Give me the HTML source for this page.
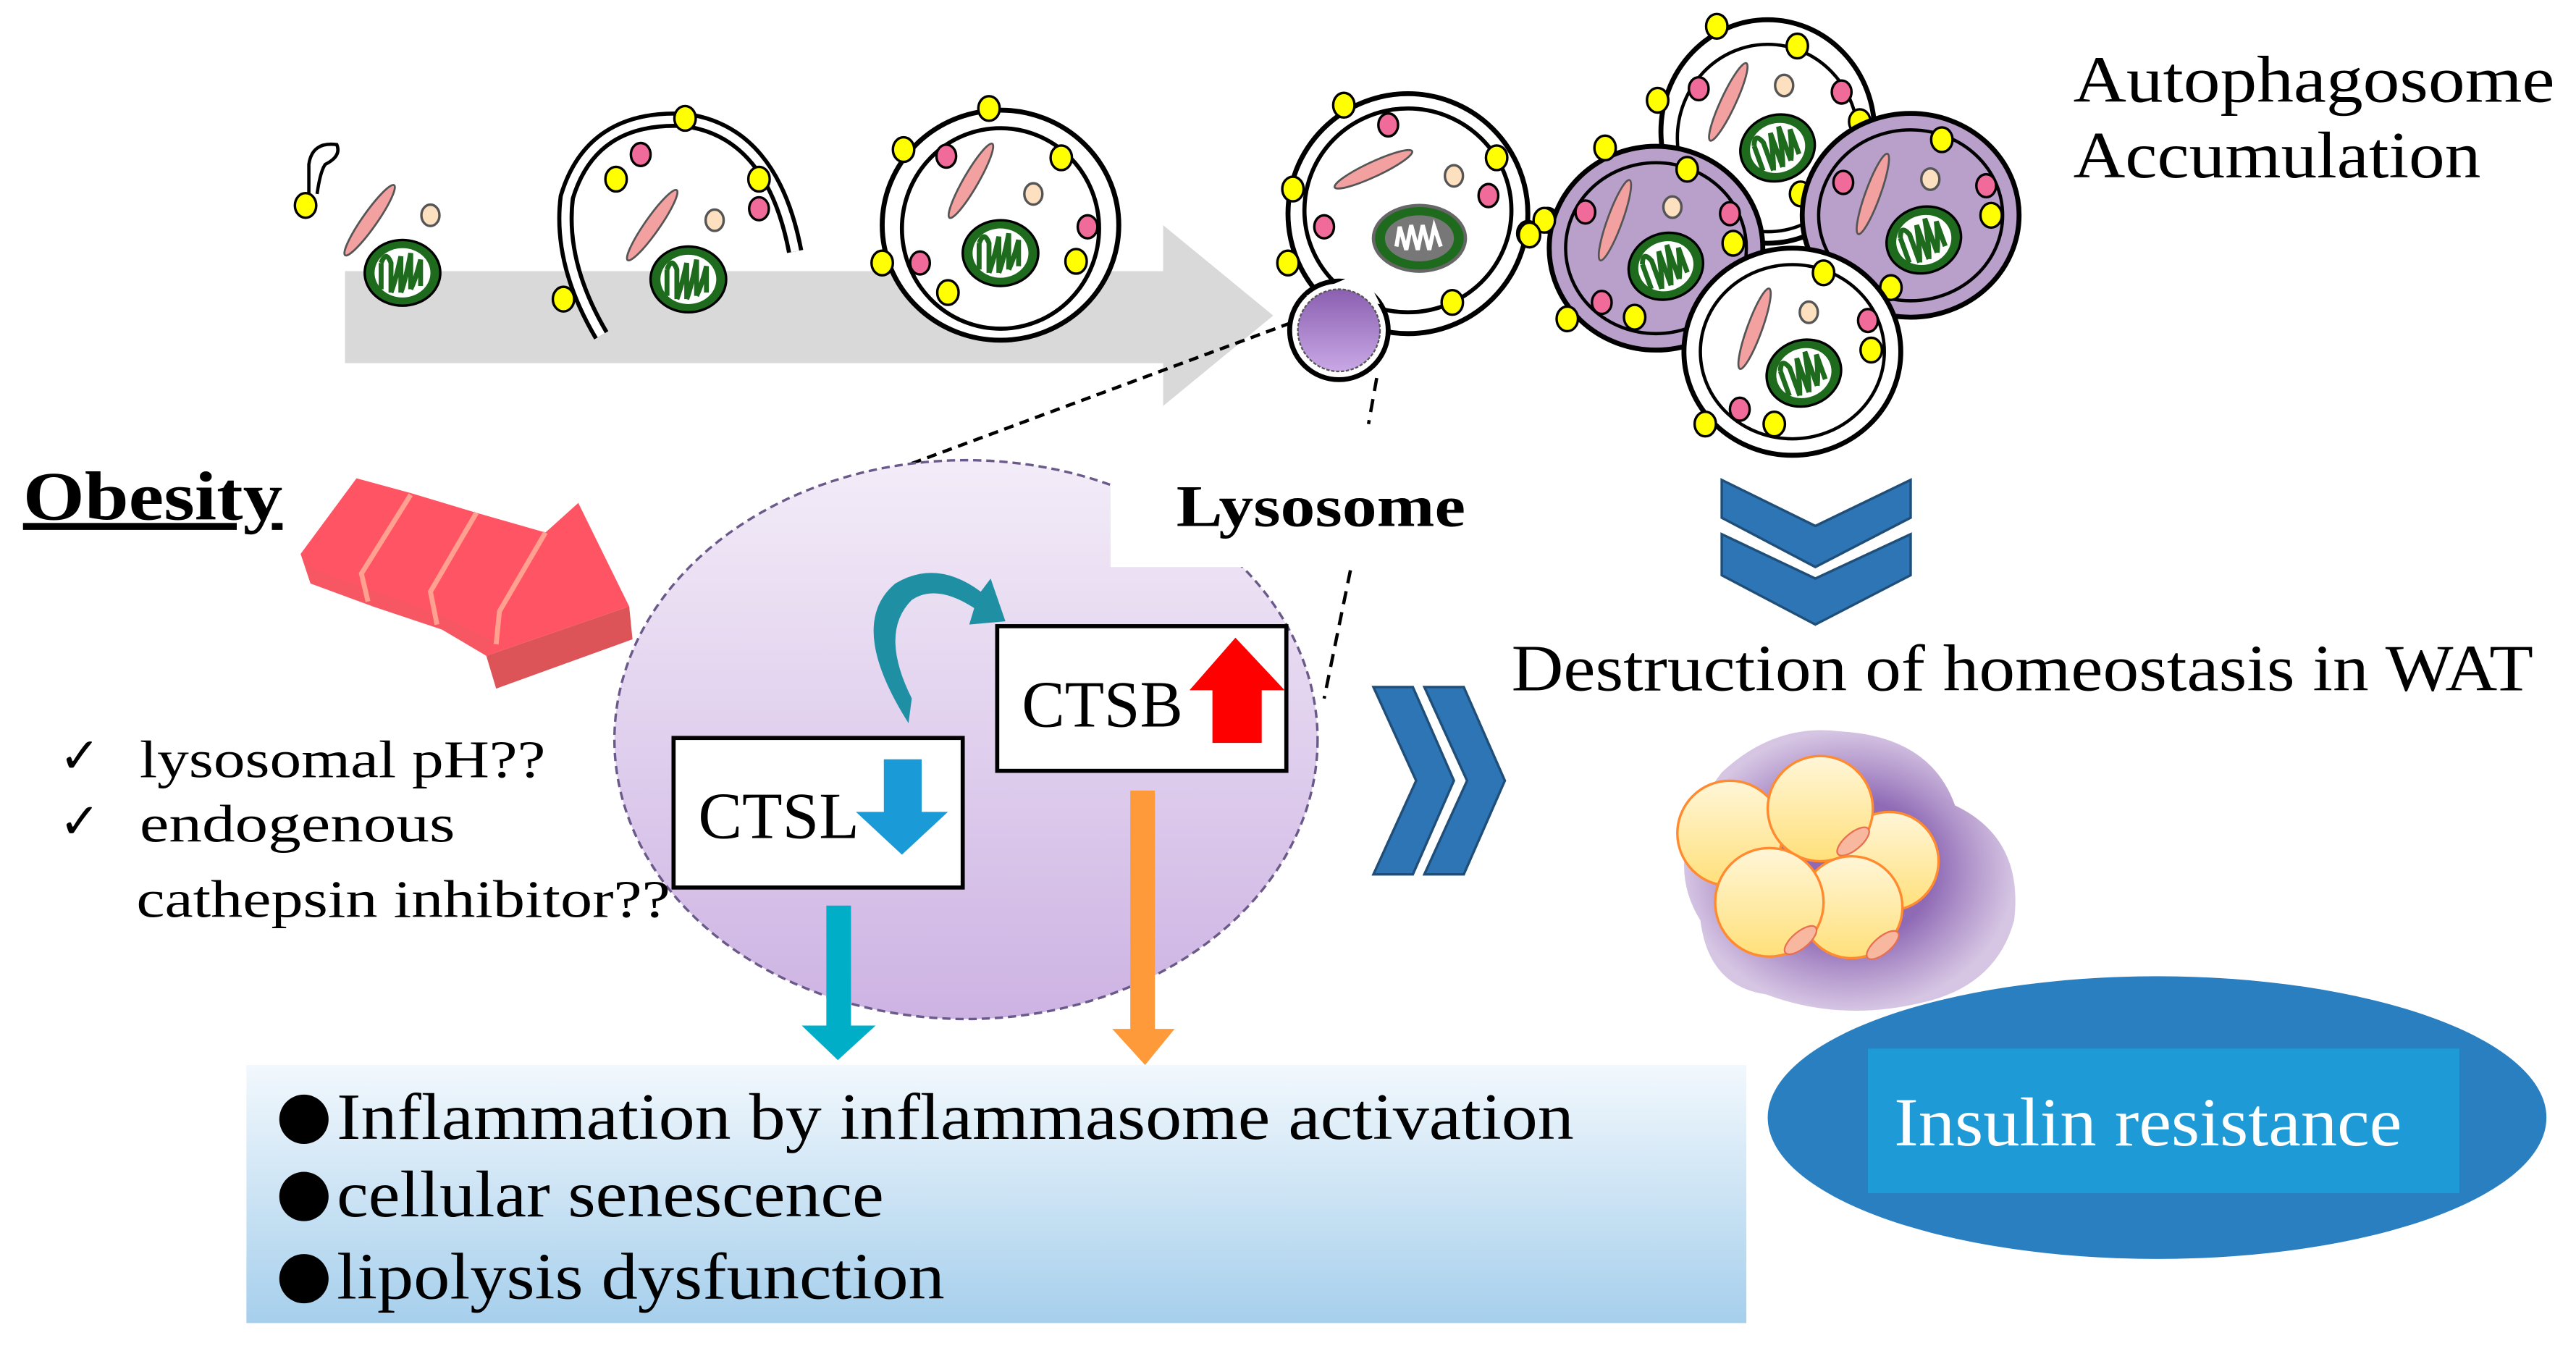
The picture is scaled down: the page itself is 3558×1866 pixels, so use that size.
<!DOCTYPE html>
<html><head><meta charset="utf-8"><style>
html,body{margin:0;padding:0;background:#fff;}
svg{display:block;}
text{font-family:"Liberation Serif",serif;}
</style></head><body>
<svg width="3558" height="1866" viewBox="0 0 1568 822" preserveAspectRatio="none" xmlns="http://www.w3.org/2000/svg">
<defs>
<linearGradient id="lys" x1="0" y1="0" x2="0" y2="1"><stop offset="0" stop-color="#f3ecf8"/><stop offset="1" stop-color="#cdb3e3"/></linearGradient>
<linearGradient id="box" x1="0" y1="0" x2="0" y2="1"><stop offset="0" stop-color="#f2f8fd"/><stop offset="1" stop-color="#a6cfec"/></linearGradient>
<linearGradient id="lyss" x1="0" y1="0" x2="0" y2="1"><stop offset="0" stop-color="#8a5fb0"/><stop offset="1" stop-color="#c9a8e6"/></linearGradient>
<linearGradient id="fat" x1="0" y1="0" x2="0" y2="1"><stop offset="0" stop-color="#fff6d8"/><stop offset="1" stop-color="#ffe07a"/></linearGradient>
<radialGradient id="glow"><stop offset="0.5" stop-color="#7b4fa8"/><stop offset="1" stop-color="#c9b3da" stop-opacity="0.9"/></radialGradient>
<g id="mito"><ellipse cx="0" cy="0" rx="23" ry="20" fill="#1e6b1e" stroke="#000" stroke-width="1.5"/><ellipse cx="0" cy="0" rx="17" ry="15" fill="#fff"/><path d="M-13 -6 L-13 10 M-13 -6 Q-10 -14 -7 -6 L-7 12 M-7 12 Q-4 4 -1 -10 L-1 12 M-1 12 Q2 4 5 -12 L5 10 M5 10 Q8 4 11 -8 L11 8" fill="none" stroke="#1e6b1e" stroke-width="3"/></g>
<g id="yd"><ellipse rx="6.5" ry="7.5" fill="#ffff00" stroke="#000" stroke-width="1.5"/></g>
<g id="pd"><ellipse rx="6" ry="7" fill="#f06a9a" stroke="#000" stroke-width="1.5"/></g>
<g id="cd"><ellipse rx="5.5" ry="6.5" fill="#fde0c0" stroke="#555" stroke-width="1.5"/></g>
<g id="rod"><ellipse rx="26" ry="4.5" fill="#f3a0a0" stroke="#555" stroke-width="1.2"/></g>
</defs>

<!-- grey arrow -->
<polygon points="210,165 708,165 708,137 775,192 708,247 708,221 210,221" fill="#d9d9d9"/>

<!-- stage 1 -->
<path d="M188 118 L188 100 Q190 86 205 88 Q208 95 198 100 Q195 104 193 118" fill="#fff" stroke="#000" stroke-width="2"/>
<use href="#yd" x="186" y="125"/>
<use href="#rod" transform="translate(225,134) rotate(-55)"/>
<use href="#cd" x="262" y="131"/>
<use href="#mito" x="245" y="166"/>

<!-- stage 2 -->
<path d="M366 204 Q340 160 345 120 Q360 70 417 73 Q470 80 484 153" fill="none" stroke="#000" stroke-width="10"/>
<path d="M366 204 Q340 160 345 120 Q360 70 417 73 Q470 80 484 153" fill="none" stroke="#fff" stroke-width="5"/>
<use href="#yd" x="417" y="72"/><use href="#yd" x="375" y="109"/><use href="#yd" x="462" y="109"/><use href="#yd" x="343" y="182"/>
<use href="#pd" x="390" y="94"/><use href="#pd" x="462" y="127"/>
<use href="#rod" transform="translate(397,137) rotate(-55)"/>
<use href="#cd" x="435" y="134"/>
<use href="#mito" x="419" y="170"/>

<!-- stage 3 -->
<ellipse cx="609" cy="137" rx="72" ry="70" fill="#fff" stroke="#000" stroke-width="3"/>
<ellipse cx="609" cy="139" rx="60" ry="61" fill="#fff" stroke="#000" stroke-width="2.5"/>
<use href="#yd" x="602" y="66"/><use href="#yd" x="550" y="91"/><use href="#yd" x="646" y="96"/><use href="#yd" x="537" y="160"/><use href="#yd" x="577" y="178"/><use href="#yd" x="655" y="159"/>
<use href="#pd" x="576" y="95"/><use href="#pd" x="662" y="138"/><use href="#pd" x="560" y="160"/>
<use href="#rod" transform="translate(591,110) rotate(-60)"/>
<use href="#cd" x="629" y="118"/>
<use href="#mito" x="609" y="154"/>

<!-- stage 4 autolysosome -->
<ellipse cx="857" cy="130" rx="73" ry="73" fill="#fff" stroke="#000" stroke-width="3"/>
<ellipse cx="857" cy="128" rx="63" ry="62" fill="#fff" stroke="#000" stroke-width="2.5"/>
<circle cx="815" cy="201" r="30" fill="#fff" stroke="#000" stroke-width="3"/>
<path d="M795 180 L830 165 L840 185 Z" fill="#fff"/>
<circle cx="815" cy="201" r="25" fill="url(#lyss)" stroke="#555" stroke-width="1" stroke-dasharray="2,1"/>
<use href="#yd" x="818" y="64"/><use href="#yd" x="787" y="115"/><use href="#yd" x="784" y="160"/><use href="#yd" x="911" y="96"/><use href="#yd" x="930" y="142"/><use href="#yd" x="942" y="134"/><use href="#yd" x="884" y="184"/>
<use href="#pd" x="845" y="76"/><use href="#pd" x="906" y="119"/><use href="#pd" x="806" y="138"/>
<use href="#rod" transform="translate(836,103) rotate(-25)"/>
<use href="#cd" x="885" y="107"/>
<ellipse cx="864" cy="145" rx="28" ry="20" fill="#1e6b1e" stroke="#666" stroke-width="2"/><ellipse cx="864" cy="145" rx="21" ry="14" fill="#777"/><path d="M850 150 L852 138 L856 152 L859 137 L863 152 L866 137 L870 152 L873 138 L877 150" fill="none" stroke="#fff" stroke-width="2.5"/>

<!-- cluster -->
<g>
<ellipse cx="1076" cy="80" rx="65" ry="68" fill="#fff" stroke="#000" stroke-width="3"/><ellipse cx="1076" cy="84" rx="55" ry="57" fill="#fff" stroke="#000" stroke-width="2"/>
<use href="#rod" transform="translate(1052,62) rotate(-65)"/><use href="#cd" x="1086" y="52"/><use href="#pd" x="1034" y="54"/><use href="#pd" x="1121" y="56"/>
<use href="#mito" transform="translate(1082,90) rotate(-20)"/>
<use href="#yd" x="1045" y="16"/><use href="#yd" x="1094" y="28"/><use href="#yd" x="1009" y="61"/><use href="#yd" x="1132" y="74"/><use href="#yd" x="1096" y="118"/>
</g>
<g>
<ellipse cx="1163" cy="131" rx="66" ry="62" fill="#b9a0cb" stroke="#000" stroke-width="3"/><ellipse cx="1163" cy="131" rx="56" ry="52" fill="#b9a0cb" stroke="#000" stroke-width="2"/>
<use href="#rod" transform="translate(1140,118) rotate(-70)"/><use href="#cd" x="1175" y="109"/><use href="#pd" x="1122" y="111"/><use href="#pd" x="1209" y="113"/>
<use href="#mito" transform="translate(1171,146) rotate(-20)"/>
<use href="#yd" x="1182" y="85"/><use href="#yd" x="1212" y="131"/><use href="#yd" x="1151" y="175"/>
</g>
<g>
<ellipse cx="1008" cy="151" rx="65" ry="62" fill="#b9a0cb" stroke="#000" stroke-width="3"/><ellipse cx="1008" cy="151" rx="55" ry="52" fill="#b9a0cb" stroke="#000" stroke-width="2"/>
<use href="#rod" transform="translate(983,134) rotate(-70)"/><use href="#cd" x="1018" y="126"/><use href="#pd" x="965" y="129"/><use href="#pd" x="1053" y="130"/><use href="#pd" x="975" y="184"/>
<use href="#mito" transform="translate(1014,162) rotate(-20)"/>
<use href="#yd" x="977" y="90"/><use href="#yd" x="1027" y="103"/><use href="#yd" x="1055" y="148"/><use href="#yd" x="995" y="193"/><use href="#yd" x="954" y="194"/><use href="#yd" x="940" y="134"/><use href="#yd" x="931" y="143"/>
</g>
<g>
<ellipse cx="1091" cy="214" rx="66" ry="63" fill="#fff" stroke="#000" stroke-width="3"/><ellipse cx="1091" cy="214" rx="56" ry="53" fill="#fff" stroke="#000" stroke-width="2"/>
<use href="#rod" transform="translate(1068,200) rotate(-70)"/><use href="#cd" x="1101" y="190"/><use href="#pd" x="1137" y="195"/><use href="#pd" x="1059" y="249"/>
<use href="#mito" transform="translate(1098,227) rotate(-20)"/>
<use href="#yd" x="1110" y="166"/><use href="#yd" x="1139" y="213"/><use href="#yd" x="1038" y="258"/><use href="#yd" x="1080" y="258"/>
</g>

<text x="1262" y="62" font-size="40" textLength="293" lengthAdjust="spacingAndGlyphs">Autophagosome</text>
<text x="1262" y="108" font-size="40" textLength="248" lengthAdjust="spacingAndGlyphs">Accumulation</text>

<!-- dashed connectors -->
<line x1="555" y1="282" x2="787" y2="196" stroke="#000" stroke-width="2" stroke-dasharray="6,4"/>
<line x1="838" y1="230" x2="833" y2="258" stroke="#000" stroke-width="2" stroke-dasharray="8,5"/>

<!-- lysosome -->
<ellipse cx="588" cy="450" rx="214" ry="170" fill="url(#lys)" stroke="#6a5a8a" stroke-width="1.5" stroke-dasharray="5,3"/>
<rect x="676" y="278" width="222" height="67" fill="#fff"/>
<text x="716" y="320" font-size="36" font-weight="bold" textLength="176" lengthAdjust="spacingAndGlyphs">Lysosome</text>
<line x1="822" y1="347" x2="806" y2="425" stroke="#000" stroke-width="2" stroke-dasharray="8,5"/>

<!-- Obesity -->
<text x="14" y="316" font-size="42" font-weight="bold" text-decoration="underline" textLength="158" lengthAdjust="spacingAndGlyphs">Obesity</text>
<polygon points="217,291 250,300 290,312 332,324 352,306 383,369 296,399 269,383 227,369 189,355 183,337" fill="#ff5464"/>
<polygon points="183,337 189,355 227,369 269,383 296,399 300,390 270,375 230,360 192,347" fill="#f25a62" opacity="0.6"/>
<polygon points="296,399 383,369 385,389 302,419" fill="#dc5458"/>
<polyline points="250,301 220,349 224,366" fill="none" stroke="#ffa090" stroke-width="3"/>
<polyline points="290,312 262,360 266,380" fill="none" stroke="#ffa090" stroke-width="3"/>
<polyline points="332,324 304,372 302,392" fill="none" stroke="#ffa090" stroke-width="3"/>

<!-- check list -->
<text x="36" y="470" font-size="30">✓</text>
<text x="85" y="473" font-size="32" textLength="247" lengthAdjust="spacingAndGlyphs">lysosomal pH??</text>
<text x="36" y="510" font-size="30">✓</text>
<text x="85" y="512" font-size="32" textLength="192" lengthAdjust="spacingAndGlyphs">endogenous</text>
<text x="83" y="558" font-size="32" textLength="325" lengthAdjust="spacingAndGlyphs">cathepsin inhibitor??</text>

<!-- curved arrow -->
<path d="M553 440 Q515 380 545 355 Q570 340 597 360 L603 352 L612 378 L590 380 L593 370 Q570 355 555 365 Q535 385 555 425 Z" fill="#1f8fa3"/>

<!-- CTSB -->
<rect x="607" y="381" width="176" height="88" fill="#fff" stroke="#000" stroke-width="2.5"/>
<text x="622" y="442" font-size="40" textLength="98" lengthAdjust="spacingAndGlyphs">CTSB</text>
<polygon points="752,388 782,420 768,420 768,452 738,452 738,420 724,420" fill="#f00"/>
<!-- CTSL -->
<rect x="410" y="449" width="176" height="91" fill="#fff" stroke="#000" stroke-width="2.5"/>
<text x="425" y="510" font-size="40" textLength="98" lengthAdjust="spacingAndGlyphs">CTSL</text>
<polygon points="538,462 561,462 561,494 577,494 549,520 521,494 538,494" fill="#1a9ad6"/>

<!-- down arrows -->
<rect x="503" y="551" width="15" height="75" fill="#00aec7"/>
<polygon points="488,624 533,624 510,645" fill="#00aec7"/>
<rect x="688" y="481" width="15" height="147" fill="#ff9a3a"/>
<polygon points="677,626 715,626 697,648" fill="#ff9a3a"/>

<!-- bottom box -->
<rect x="150" y="648" width="913" height="157" fill="url(#box)"/>
<circle cx="185" cy="681" r="15" fill="#000"/>
<circle cx="185" cy="728" r="15" fill="#000"/>
<circle cx="185" cy="778" r="15" fill="#000"/>
<text x="205" y="693" font-size="40" textLength="753" lengthAdjust="spacingAndGlyphs">Inflammation by inflammasome activation</text>
<text x="205" y="740" font-size="40" textLength="333" lengthAdjust="spacingAndGlyphs">cellular senescence</text>
<text x="205" y="790" font-size="40" textLength="370" lengthAdjust="spacingAndGlyphs">lipolysis dysfunction</text>

<!-- right chevrons -->
<polygon points="836,418 860,418 885,475 860,532 836,532 862,475" fill="#2e75b6" stroke="#1f4e79" stroke-width="1.5"/>
<polygon points="867,418 891,418 916,475 891,532 867,532 893,475" fill="#2e75b6" stroke="#1f4e79" stroke-width="1.5"/>

<!-- down chevrons -->
<polygon points="1048,292 1105,320 1163,292 1163,315 1105,345 1048,315" fill="#2e75b6" stroke="#1f4e79" stroke-width="1.5"/>
<polygon points="1048,325 1105,352 1163,325 1163,350 1105,380 1048,350" fill="#2e75b6" stroke="#1f4e79" stroke-width="1.5"/>

<text x="920" y="420" font-size="40" textLength="622" lengthAdjust="spacingAndGlyphs">Destruction of homeostasis in WAT</text>

<!-- fat cells -->
<path d="M1048 470 Q1080 440 1120 445 Q1175 448 1190 490 Q1232 510 1226 560 Q1215 600 1170 610 Q1120 622 1075 605 Q1040 600 1035 560 Q1010 520 1048 470 Z" fill="url(#glow)" opacity="0.85"/>
<circle cx="1150" cy="524" r="30" fill="url(#fat)" stroke="#ff8a30" stroke-width="1.5"/>
<circle cx="1053" cy="507" r="32" fill="url(#fat)" stroke="#ff8a30" stroke-width="1.5"/>
<circle cx="1108" cy="492" r="32" fill="url(#fat)" stroke="#ff8a30" stroke-width="1.5"/>
<ellipse cx="1128" cy="512" rx="12" ry="5" transform="rotate(-40 1128 512)" fill="#f8b8a0" stroke="#e87050"/>
<circle cx="1127" cy="552" r="31" fill="url(#fat)" stroke="#ff8a30" stroke-width="1.5"/>
<circle cx="1077" cy="549" r="33" fill="url(#fat)" stroke="#ff8a30" stroke-width="1.5"/>
<ellipse cx="1096" cy="572" rx="12" ry="5" transform="rotate(-40 1096 572)" fill="#f8b8a0" stroke="#e87050"/>
<ellipse cx="1146" cy="575" rx="12" ry="5" transform="rotate(-40 1146 575)" fill="#f8b8a0" stroke="#e87050"/>

<!-- insulin resistance -->
<ellipse cx="1313" cy="680" rx="237" ry="86" fill="#2a7fc1"/>
<rect x="1137" y="638" width="360" height="88" fill="#1e9ad6"/>
<text x="1153" y="697" font-size="42" fill="#fff" textLength="309" lengthAdjust="spacingAndGlyphs">Insulin resistance</text>
</svg>
</body></html>
